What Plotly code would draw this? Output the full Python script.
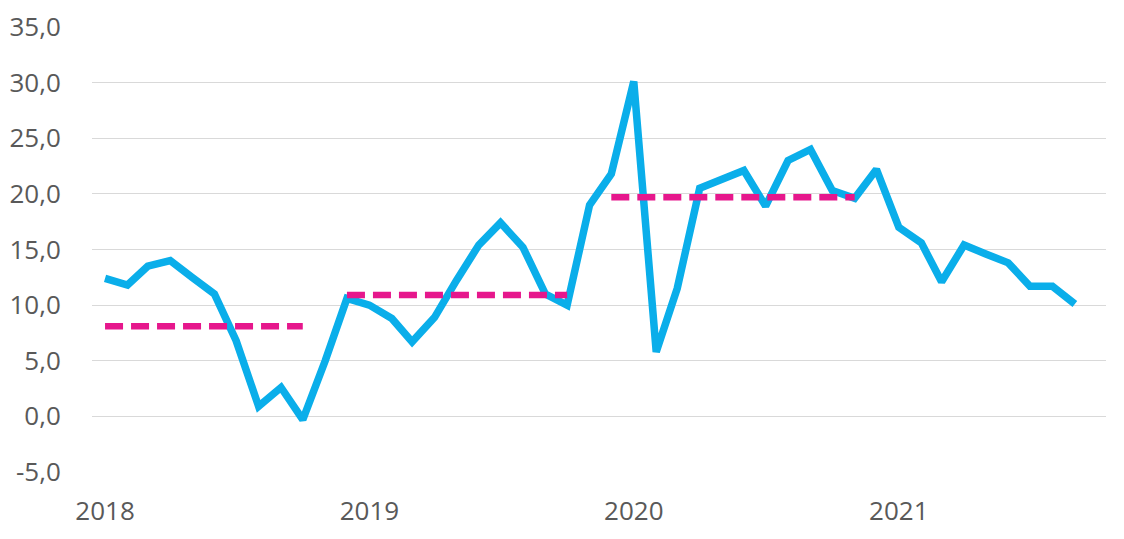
import plotly.graph_objects as go

# ── data ─────────────────────────────────────────────────
years = [2018, 2019, 2020, 2021]
months = [f"{y}-{m:02d}-01" for y in years for m in range(1, 13)][:45]

values = [
    12.4, 11.8, 13.5, 14.0, 12.5, 11.0, 6.8, 0.9, 2.6, -0.3, 5.0, 10.6,      # 2018
    10.0, 8.8, 6.7, 8.9, 12.2, 15.4, 17.4, 15.2, 11.0, 10.0, 19.0, 21.8,     # 2019
    30.1, 5.8, 11.5, 20.5, 21.3, 22.1, 18.9, 23.0, 24.0, 20.3, 19.6, 22.2,   # 2020
    17.0, 15.6, 12.1, 15.4, 14.6, 13.8, 11.7, 11.7, 10.1,                    # 2021
]

# period averages (pink dashed)
avg_periods = [
    ("2018-01-01", "2018-10-01", 8.1),
    ("2018-12-01", "2019-10-01", 10.9),
    ("2019-12-01", "2020-11-01", 19.7),
]

y_ticks = [-5, 0, 5, 10, 15, 20, 25, 30, 35]
y_ticktext = [f"{v:.1f}".replace(".", ",") for v in y_ticks]
x_ticks = [f"{y}-01-01" for y in years]
x_ticktext = [str(y) for y in years]

BLUE = "#0AAEEA"
PINK = "#E6178C"
GRID = "#D9D9D9"
TEXT = "#595959"

fig = go.Figure()

fig.add_trace(go.Scatter(
    x=months, y=values, mode="lines",
    line=dict(color=BLUE, width=7.5),
    hoverinfo="skip",
))

for start, end, avg in avg_periods:
    fig.add_trace(go.Scatter(
        x=[start, end], y=[avg, avg], mode="lines",
        line=dict(color=PINK, width=6.5, dash="18px,8px"),
        hoverinfo="skip",
    ))

# page body adds an 8px margin, so the figure is sized to fit inside it
fig.update_layout(
    width=1108, height=523,
    margin=dict(l=84, r=10, t=19, b=59),
    paper_bgcolor="white", plot_bgcolor="white",
    showlegend=False,
    font=dict(family="Open Sans", size=26, color=TEXT),
)

fig.update_xaxes(
    type="date", automargin=False,
    range=["2017-12-14", "2021-10-14"],
    tickvals=x_ticks, ticktext=x_ticktext,
    showgrid=False, zeroline=False, showline=False,
    ticks="outside", ticklen=16, tickcolor="rgba(0,0,0,0)",
)
fig.update_yaxes(
    automargin=False,
    range=[-5, 35],
    tickvals=y_ticks, ticktext=y_ticktext,
    showgrid=True, gridcolor=GRID, gridwidth=1,
    zeroline=False, showline=False,
    ticks="outside", ticklen=25, tickcolor="rgba(0,0,0,0)",
)

fig.write_html("out.html")
